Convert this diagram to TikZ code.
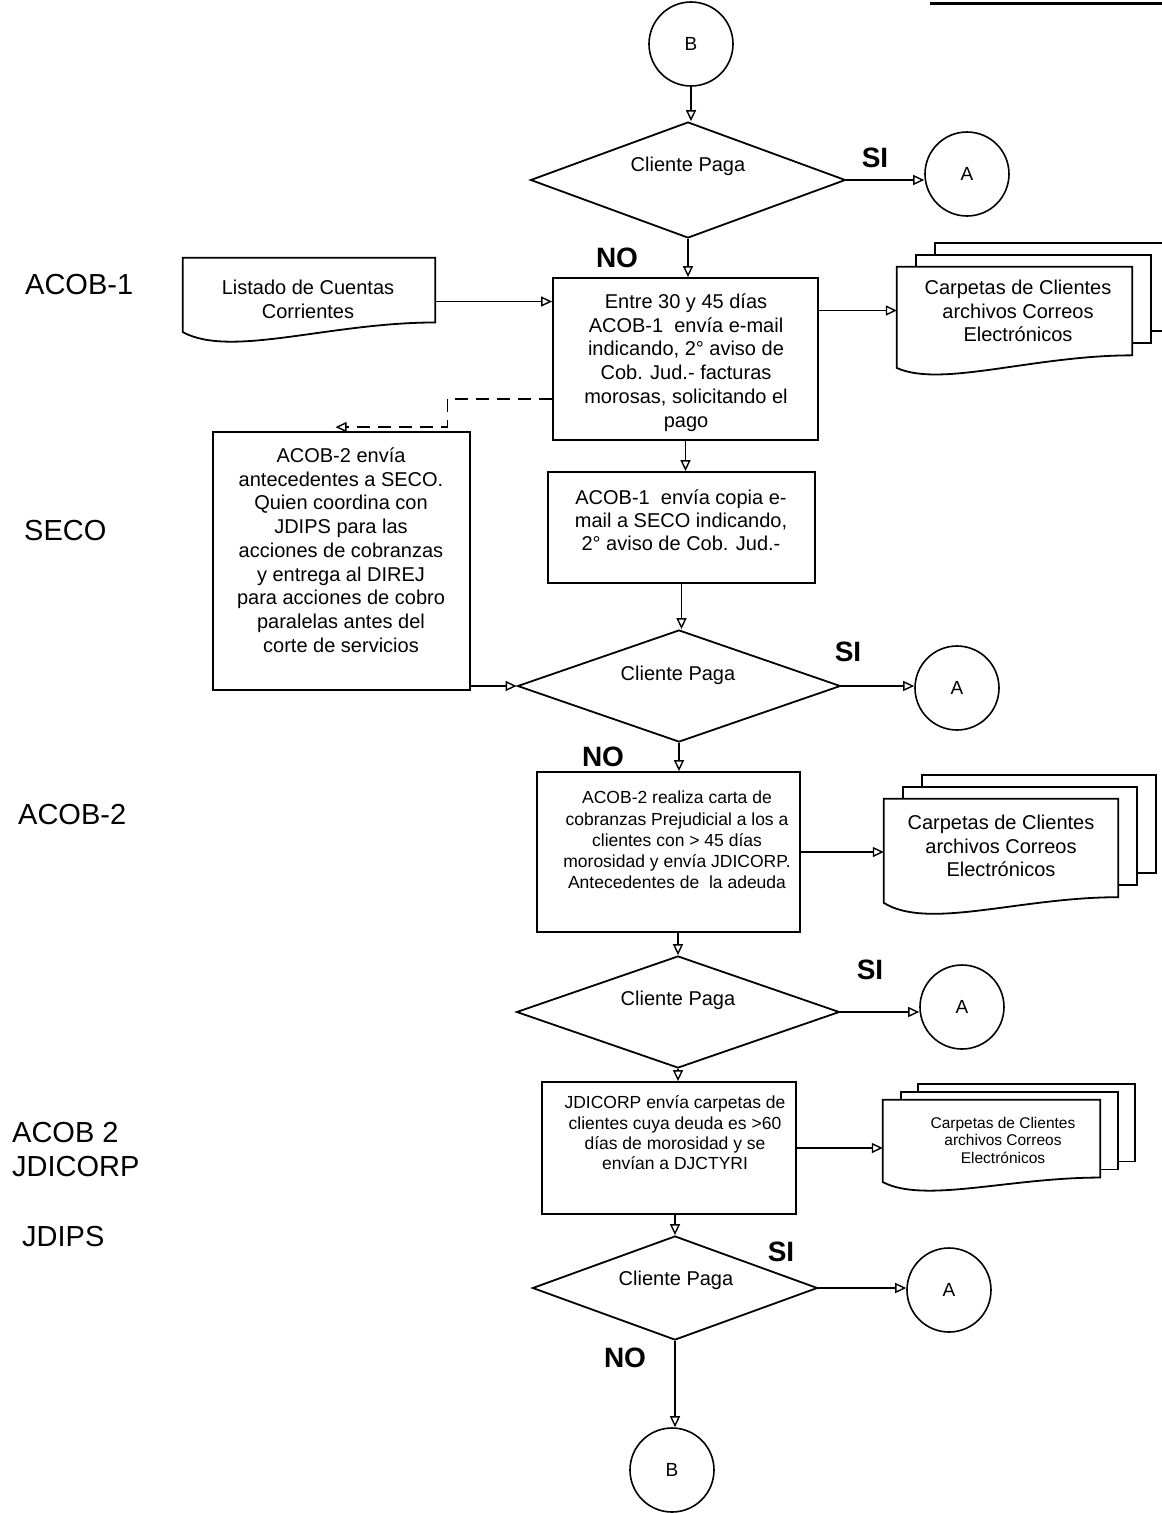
\documentclass[tikz,border=0pt]{standalone}
\usepackage{fontspec}
\setmainfont{Liberation Sans}
\usetikzlibrary{shapes.geometric,arrows.meta,calc}
\newcommand\fsz[2]{\fontsize{#1}{#2}\selectfont}
% wavy-bottom document outline around an (invisible) holder node
\newcommand\wavyout[3]{%
  \draw[shp] let \p1=(#1.north west), \p2=(#1.south east),
    \n1={\x2-\x1}, \n2={\y1-\y2} in
    (\x1,\y1) -- (\x2,\y1) -- (\x2,{\y2+#2*\n2})
    .. controls ({\x2-0.42*\n1},{\y2+#2*\n2}) and ({\x1+0.19*\n1},{\y2-0.15*\n2})
    .. (\x1,{\y2+#3*\n2}) -- cycle;}
% back sheets of a multi-document stack
\newcommand\stacklayers[3]{%
  \foreach \dx/\dy in {#3}{%
    \draw[shp] let \p1=(#1.north west), \p2=(#1.south east), \n2={\y1-\y2} in
      ({\x1+\dx pt},{\y1+\dy pt}) rectangle ({\x2+\dx pt},{\y2+#2*\n2+\dy pt});}}
\begin{document}
\begin{tikzpicture}[x=1pt,y=-1pt,
  shp/.style={draw, line width=1.8pt, fill=white},
  box/.style={shp, rectangle, inner sep=0pt},
  holder/.style={rectangle, inner sep=0pt},
  txt/.style={align=center, inner sep=0pt, font=\fsz{20}{23.7}},
  dec/.style={shp, diamond, inner sep=0pt},
  con/.style={draw, circle, line width=1.6pt, minimum size=84pt, inner sep=0pt, fill=white, font=\fsz{19}{21}},
  arr/.style={line width=1.4pt, -{Triangle[open, length=11pt, width=10pt, line width=1.4pt]}},
  yn/.style={font=\fsz{28}{30}\bfseries, inner sep=0pt},
  lane/.style={font=\fsz{29}{32}, inner sep=0pt, anchor=west},
]
\useasboundingbox (0,0) rectangle (1162,1513);
\fill[white] (0,0) rectangle (1162,1513);
\draw[line width=3pt] (930,3) -- (1162,3);

% lane labels
\node[lane] (l1) at (25,285) {ACOB-1};
\node[lane] (l2) at (24,531) {SECO};
\node[lane] (l3) at (18,815) {ACOB-2};
\node[lane] (l4) at (12,1133) {ACOB 2};
\node[lane] (l5) at (12,1167) {JDICORP};
\node[lane] (l6) at (22,1237) {JDIPS};

% first decision
\node[con] (B1) at (691,44) {B};
\node[dec, minimum width=315pt, minimum height=116pt] (d1) at (688,180) {};
\node[txt] (d1t) at (688,166) {Cliente Paga};
\node[con] (A1) at (967,174) {A};
\node[yn] (si1) at (875,158) {SI};
\node[yn] (no1) at (617,258) {NO};

% step 1
\node[box, minimum width=265pt, minimum height=162pt] (b1) at (685.5,359) {};
\node[txt] (b1t) at (686,362.5) {Entre 30 y 45 días\\ACOB-1\ \ envía e-mail\\indicando, 2° aviso de\\Cob. Jud.- facturas\\morosas, solicitando el\\pago};

\node[holder, minimum width=252pt, minimum height=87pt] (lis) at (309,301.5) {};
\wavyout{lis}{0.26}{0.15}
\node[txt] (list) at (308,299.5) {Listado de Cuentas\\Corrientes};

\node[holder, minimum width=235pt, minimum height=105pt] (s1) at (1014.5,319.5) {};
\stacklayers{s1}{0.16}{38/24,19/12}
\wavyout{s1}{0.16}{0.04}
\node[txt] (s1t) at (1018,311) {Carpetas de Clientes\\archivos Correos\\Electrónicos};

% step 2
\node[box, minimum width=267pt, minimum height=111pt] (b2) at (681.5,527.5) {};
\node[txt, font=\fsz{20}{23}] (b2t) at (681,520) {ACOB-1\ \ envía copia e-\\mail a SECO indicando,\\2° aviso de Cob. Jud.-};

\node[box, minimum width=257pt, minimum height=258pt] (seco) at (341.5,561) {};
\node[txt, font=\fsz{20}{23.75}] (secot) at (341,550) {ACOB-2 envía\\antecedentes a SECO.\\Quien coordina con\\JDIPS para las\\acciones de cobranzas\\y entrega al DIREJ\\para acciones de cobro\\paralelas antes del\\corte de servicios};

% second decision
\node[dec, minimum width=323pt, minimum height=112pt] (d2) at (679,686) {};
\node[txt] (d2t) at (678,675) {Cliente Paga};
\node[con] (A2) at (957,688) {A};
\node[yn] (si2) at (848,652) {SI};
\node[yn] (no2) at (603,757) {NO};

% step 3
\node[box, minimum width=263pt, minimum height=160pt] (b3) at (668.5,852) {};
\node[txt, font=\fsz{17.5}{21.2}] (b3t) at (677,840) {ACOB-2 realiza carta de\\cobranzas Prejudicial a los a\\clientes con > 45 días\\morosidad y envía JDICORP.\\Antecedentes de\ \ la adeuda};

\node[holder, minimum width=234pt, minimum height=114pt] (s2) at (1001,856) {};
\stacklayers{s2}{0.14}{38/24,19/12}
\wavyout{s2}{0.14}{0.09}
\node[txt, font=\fsz{20}{23.5}] (s2t) at (1001,846) {Carpetas de Clientes\\archivos Correos\\Electrónicos};

% third decision
\node[dec, minimum width=323pt, minimum height=112pt] (d3) at (678,1012) {};
\node[txt] (d3t) at (678,1000) {Cliente Paga};
\node[con] (A3) at (962,1007) {A};
\node[yn] (si3) at (870,970) {SI};

% step 4
\node[box, minimum width=254pt, minimum height=132pt] (b4) at (669,1148) {};
\node[txt, font=\fsz{17.5}{20.4}] (b4t) at (675,1133) {JDICORP envía carpetas de\\clientes cuya deuda es >60\\días de morosidad y se\\envían a DJCTYRI};

\node[holder, minimum width=217pt, minimum height=90pt] (s3) at (991.5,1145) {};
\stacklayers{s3}{0.14}{35/16,18/8}
\wavyout{s3}{0.14}{0.09}
\node[txt, font=\fsz{15.5}{17.5}] (s3t) at (1003,1140) {Carpetas de Clientes\\archivos Correos\\Electrónicos};

% fourth decision
\node[dec, minimum width=285pt, minimum height=104pt] (d4) at (675,1288) {};
\node[txt] (d4t) at (676,1280) {Cliente Paga};
\node[con] (A4) at (949,1290) {A};
\node[yn] (si4) at (781,1252) {SI};
\node[yn] (no4) at (625,1358) {NO};
\node[con] (B2) at (672,1470) {B};

% connectors
\coordinate (s1in) at ([yshift=9pt]s1.west);
\coordinate (dk) at ($(seco.north)+(106,-4)$);
\coordinate (dtip) at ($(seco.north)+(-6,-4)$);
\draw[arr] (B1.south) -- (B1.south |- d1.north);
\draw[arr] (d1.east) -- (d1.east -| A1.west);
\draw[arr] (d1.south) -- (d1.south |- b1.north);
\draw[arr] (lis.east) -- (lis.east -| b1.west);
\draw[arr] (s1in -| b1.east) -- (s1in);
\draw[arr, dash pattern=on 13pt off 8pt] ([yshift=-40pt]b1.west) -| (dk) -- (dtip);
\draw[arr] (b1.south) -- (b1.south |- b2.north);
\draw[arr] (b2.south) -- (b2.south |- d2.north);
\draw[arr] (d2.west -| seco.east) -- (d2.west);
\draw[arr] (d2.east) -- (d2.east -| A2.west);
\draw[arr] (d2.south) -- (d2.south |- b3.north);
\draw[arr] (b3.east) -- (b3.east -| s2.west);
\draw[arr] (d3.north |- b3.south) -- (d3.north);
\draw[arr] (d3.east) -- (d3.east -| A3.west);
\draw[arr] (d3.south) -- (d3.south |- b4.north);
\draw[arr] (b4.east) -- (b4.east -| s3.west);
\draw[arr] (d4.north |- b4.south) -- (d4.north);
\draw[arr] (d4.east) -- (d4.east -| A4.west);
\draw[arr] (d4.south) -- (d4.south |- B2.north);
\end{tikzpicture}
\end{document}
